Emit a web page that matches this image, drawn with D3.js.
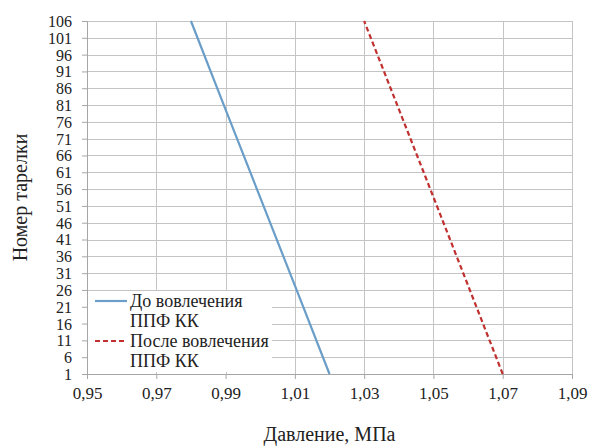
<!DOCTYPE html>
<html>
<head>
<meta charset="utf-8">
<script src="https://cdn.jsdelivr.net/npm/d3@7"></script>
</head>
<body style="margin:0">
<svg id="chart" width="589" height="448"></svg>
<script>
// pressure readings per plate
let beforePlates = [1, 26, 81, 106];
let beforePressure = [1.02, 1.0105, 0.9895, 0.98];
let afterPlates = [1, 51, 106];
let afterPressure = [1.07, 1.051, 1.03];

let xTicks = [0.95, 0.97, 0.99, 1.01, 1.03, 1.05, 1.07, 1.09];
let yTicks = [1, 6, 11, 16, 21, 26, 31, 36, 41, 46, 51, 56, 61, 66, 71, 76, 81, 86, 91, 96, 101, 106];

let seriesNames = ["До вовлечения|ППФ КК", "После вовлечения|ППФ КК"];

let margin = {left: 87, right: 17, top: 21, bottom: 74};
let width = 589 - margin.left - margin.right;
let height = 448 - margin.top - margin.bottom;

let svg = d3.select("#chart");
let g = svg.append("g")
    .attr("transform", "translate(" + margin.left + "," + margin.top + ")");

let x = d3.scaleLinear().domain([0.95, 1.09]).range([0, width]);
let y = d3.scaleLinear().domain([1, 106]).range([height, 0]);

let fmt = (d) => d3.format(".2f")(d).replace(".", ",");

//grid
g.append("g")
    .selectAll("line")
    .data(yTicks)
    .enter().append("line")
    .attr("x1", 0).attr("x2", width)
    .attr("y1", (d) => Math.round(y(d)) + 0.5).attr("y2", (d) => Math.round(y(d)) + 0.5)
    .attr("stroke", "#c4c4c4");

g.append("g")
    .selectAll("line")
    .data(xTicks)
    .enter().append("line")
    .attr("y1", 0).attr("y2", height)
    .attr("x1", (d) => Math.round(x(d)) + 0.5).attr("x2", (d) => Math.round(x(d)) + 0.5)
    .attr("stroke", "#c4c4c4");

//axes
let xAxis = g.append("g")
    .attr("transform", "translate(0," + height + ")")
    .call(d3.axisBottom(x).tickValues(xTicks).tickFormat(fmt).tickSize(5).tickPadding(8));

let yAxis = g.append("g")
    .call(d3.axisLeft(y).tickValues(yTicks).tickSize(5).tickPadding(10));

[xAxis, yAxis].forEach((a) => {
    a.attr("font-family", null);
    a.selectAll("path, line").attr("stroke", "#a6a6a6");
    a.selectAll("text").attr("fill", "#222");
});
xAxis.attr("font-size", null).selectAll("text").attr("font-size", 17);
yAxis.attr("font-size", null).selectAll("text").attr("font-size", 16).attr("dy", "0.34em");

//series
let line = d3.line()
    .x((d) => x(d.p))
    .y((d) => y(d.n));

let before = beforePlates.map((n, i) => ({n: n, p: beforePressure[i]}));
let after = afterPlates.map((n, i) => ({n: n, p: afterPressure[i]}));

g.append("path")
    .datum(before)
    .attr("d", line)
    .attr("fill", "none")
    .attr("stroke", "#6a9ec8")
    .attr("stroke-width", 2.2);

g.append("path")
    .datum(after)
    .attr("d", line)
    .attr("fill", "none")
    .attr("stroke", "#c0302e")
    .attr("stroke-width", 2.2)
    .attr("stroke-dasharray", "5,3");

//legend
let legend = svg.append("g").attr("transform", "translate(88,291)");
legend.append("rect")
    .attr("width", 184).attr("height", 81)
    .attr("fill", "#fff");

let styles = [
    {color: "#6a9ec8", dash: null},
    {color: "#c0302e", dash: "5,3"}
];

seriesNames.forEach((name, i) => {
    let row = legend.append("g").attr("transform", "translate(0," + (i * 40) + ")");
    row.append("line")
        .attr("x1", 7).attr("x2", 39)
        .attr("y1", 10).attr("y2", 10)
        .attr("stroke", styles[i].color)
        .attr("stroke-width", 2.2)
        .attr("stroke-dasharray", styles[i].dash);
    name.split("|").forEach((part, j) => {
        row.append("text")
            .attr("x", 42)
            .attr("y", 16 + j * 20)
            .attr("fill", "#222")
            .attr("font-size", 18)
            .text(part);
    });
});

//axis titles
svg.append("text")
    .attr("x", margin.left + width / 2)
    .attr("y", 441)
    .attr("text-anchor", "middle")
    .attr("fill", "#222")
    .attr("font-size", 20)
    .text("Давление, МПа");

svg.append("text")
    .attr("transform", "translate(27," + (margin.top + height / 2) + ") rotate(-90)")
    .attr("text-anchor", "middle")
    .attr("fill", "#222")
    .attr("font-size", 20)
    .text("Номер тарелки");

//one font for every text
svg.selectAll("text").attr("font-family", "Liberation Serif");
</script>
</body>
</html>
